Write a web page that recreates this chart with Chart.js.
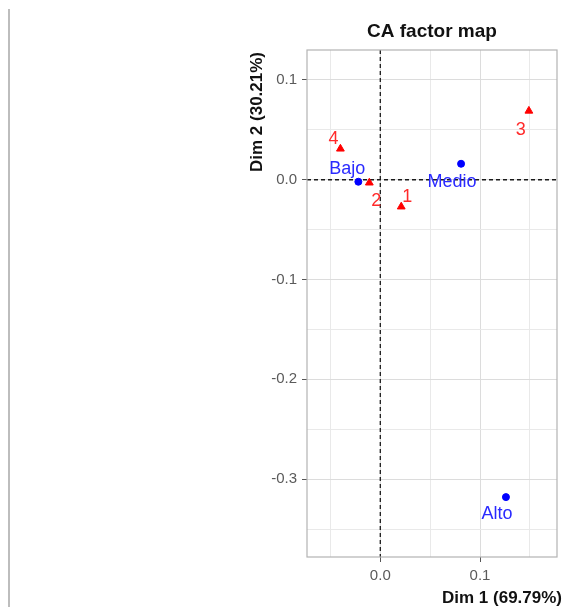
<!DOCTYPE html>
<html>
<head>
<meta charset="utf-8">
<script src="https://cdn.jsdelivr.net/npm/chart.js@4"></script>
<style>
  html, body { margin: 0; padding: 0; background: #fff; }
  #wrap { position: relative; width: 564px; height: 607px; }
  #sideRule { position: absolute; left: 8px; top: 9px; width: 2px; height: 598px; background: #bdbdbd; }
  #map { position: absolute; left: 0; top: 0; }
</style>
</head>
<body>
<div id="wrap">
  <div id="sideRule"></div>
  <canvas id="map" width="564" height="607"></canvas>
</div>
<script>
// Coordenadas del análisis de correspondencias (Dim 1, Dim 2)
const rowNames = ['Bajo', 'Medio', 'Alto'];
const rowDim1 = [-0.022, 0.081, 0.126];
const rowDim2 = [-0.002, 0.016, -0.318];

const colNames = ['1', '2', '3', '4'];
const colDim1 = [0.021, -0.011, 0.149, -0.040];
const colDim2 = [-0.027, -0.003, 0.069, 0.031];

const dim1Ticks = [0.0, 0.1];
const dim2Ticks = [-0.3, -0.2, -0.1, 0.0, 0.1];

// desplazamiento de cada etiqueta respecto a su punto (px)
const labelShift = {
  'Bajo': [-11, -13], 'Medio': [-9, 18], 'Alto': [-9, 17],
  '1': [6, -10], '2': [7, 18], '3': [-8, 19], '4': [-7, -10]
};

const FONT = '"Liberation Sans", Arial, sans-serif';
const isMajor = v => Math.abs(v * 10 - Math.round(v * 10)) < 1e-6;
const hasLabel = (list, v) => list.some(t => Math.abs(t - v) < 1e-6);

const toPoints = (xs, ys) => xs.map((x, i) => ({ x: x, y: ys[i] }));

const decor = {
  id: 'decor',
  beforeDatasetsDraw(chart) {
    const { ctx, chartArea: a, scales } = chart;
    const x0 = scales.x.getPixelForValue(0);
    const y0 = scales.y.getPixelForValue(0);
    ctx.save();
    ctx.strokeStyle = '#1a1a1a';
    ctx.lineWidth = 1.3;
    ctx.setLineDash([4, 3]);
    ctx.beginPath();
    ctx.moveTo(x0, a.top); ctx.lineTo(x0, a.bottom);
    ctx.moveTo(a.left, y0); ctx.lineTo(a.right, y0);
    ctx.stroke();
    ctx.restore();
  },
  afterDatasetsDraw(chart) {
    const { ctx } = chart;
    ctx.save();
    ctx.font = '18px ' + FONT;
    ctx.textAlign = 'center';
    ctx.textBaseline = 'middle';
    chart.data.datasets.forEach((ds, di) => {
      const meta = chart.getDatasetMeta(di);
      ctx.fillStyle = ds.labelColor;
      meta.data.forEach((pt, i) => {
        const name = ds.names[i];
        const s = labelShift[name] || [0, -12];
        ctx.fillText(name, pt.x + s[0], pt.y + s[1]);
      });
    });
    ctx.restore();
  },
  afterDraw(chart) {
    const { ctx, chartArea: a } = chart;
    ctx.save();
    // borde del panel
    ctx.strokeStyle = '#b3b3b3';
    ctx.lineWidth = 1.2;
    ctx.strokeRect(a.left, a.top, a.right - a.left, a.bottom - a.top);
    // títulos
    ctx.fillStyle = '#111';
    ctx.font = 'bold 19px ' + FONT;
    ctx.textAlign = 'center';
    ctx.textBaseline = 'middle';
    ctx.fillText('CA factor map', (a.left + a.right) / 2, 32);
    ctx.font = 'bold 17px ' + FONT;
    ctx.textAlign = 'right';
    ctx.fillText('Dim 1 (69.79%)', 562, 598);
    ctx.translate(257, 112);
    ctx.rotate(-Math.PI / 2);
    ctx.textAlign = 'center';
    ctx.fillText('Dim 2 (30.21%)', 0, 0);
    ctx.restore();
  }
};

const gridColor = c => isMajor(c.tick.value) ? '#dcdcdc' : '#e9e9e9';

new Chart(document.getElementById('map'), {
  type: 'scatter',
  data: {
    datasets: [{
      label: 'filas',
      names: rowNames,
      data: toPoints(rowDim1, rowDim2),
      pointStyle: 'circle',
      pointRadius: 3.5,
      backgroundColor: '#0000ff',
      borderColor: '#0000ff',
      labelColor: '#2a2aff'
    }, {
      label: 'columnas',
      names: colNames,
      data: toPoints(colDim1, colDim2),
      pointStyle: 'triangle',
      pointRadius: 4.5,
      backgroundColor: '#ff0000',
      borderColor: '#ff0000',
      labelColor: '#ff2a2a'
    }]
  },
  options: {
    responsive: false,
    animation: false,
    layout: { padding: { left: 0, top: 50, right: 7, bottom: 0 } },
    plugins: {
      legend: { display: false },
      tooltip: { enabled: false }
    },
    scales: {
      x: {
        type: 'linear',
        min: -0.0735,
        max: 0.1772,
        afterFit: s => { s.height = 50; },
        border: { display: false },
        grid: {
          color: gridColor,
          lineWidth: 1,
          tickLength: 5,
          tickColor: c => hasLabel(dim1Ticks, c.tick.value) ? '#555' : 'transparent'
        },
        ticks: {
          stepSize: 0.05,
          includeBounds: false,
          autoSkip: false,
          maxRotation: 0,
          padding: 5,
          color: '#5a5a5a',
          font: { family: FONT, size: 15 },
          callback: v => hasLabel(dim1Ticks, v) ? v.toFixed(1) : ''
        }
      },
      y: {
        type: 'linear',
        min: -0.378,
        max: 0.130,
        afterFit: s => { s.width = 307; },
        border: { display: false },
        grid: {
          color: gridColor,
          lineWidth: 1,
          tickLength: 5,
          tickColor: c => hasLabel(dim2Ticks, c.tick.value) ? '#555' : 'transparent'
        },
        ticks: {
          stepSize: 0.05,
          includeBounds: false,
          autoSkip: false,
          padding: 5,
          color: '#5a5a5a',
          font: { family: FONT, size: 15 },
          callback: v => hasLabel(dim2Ticks, v) ? v.toFixed(1) : ''
        }
      }
    }
  },
  plugins: [decor]
});
</script>
</body>
</html>
